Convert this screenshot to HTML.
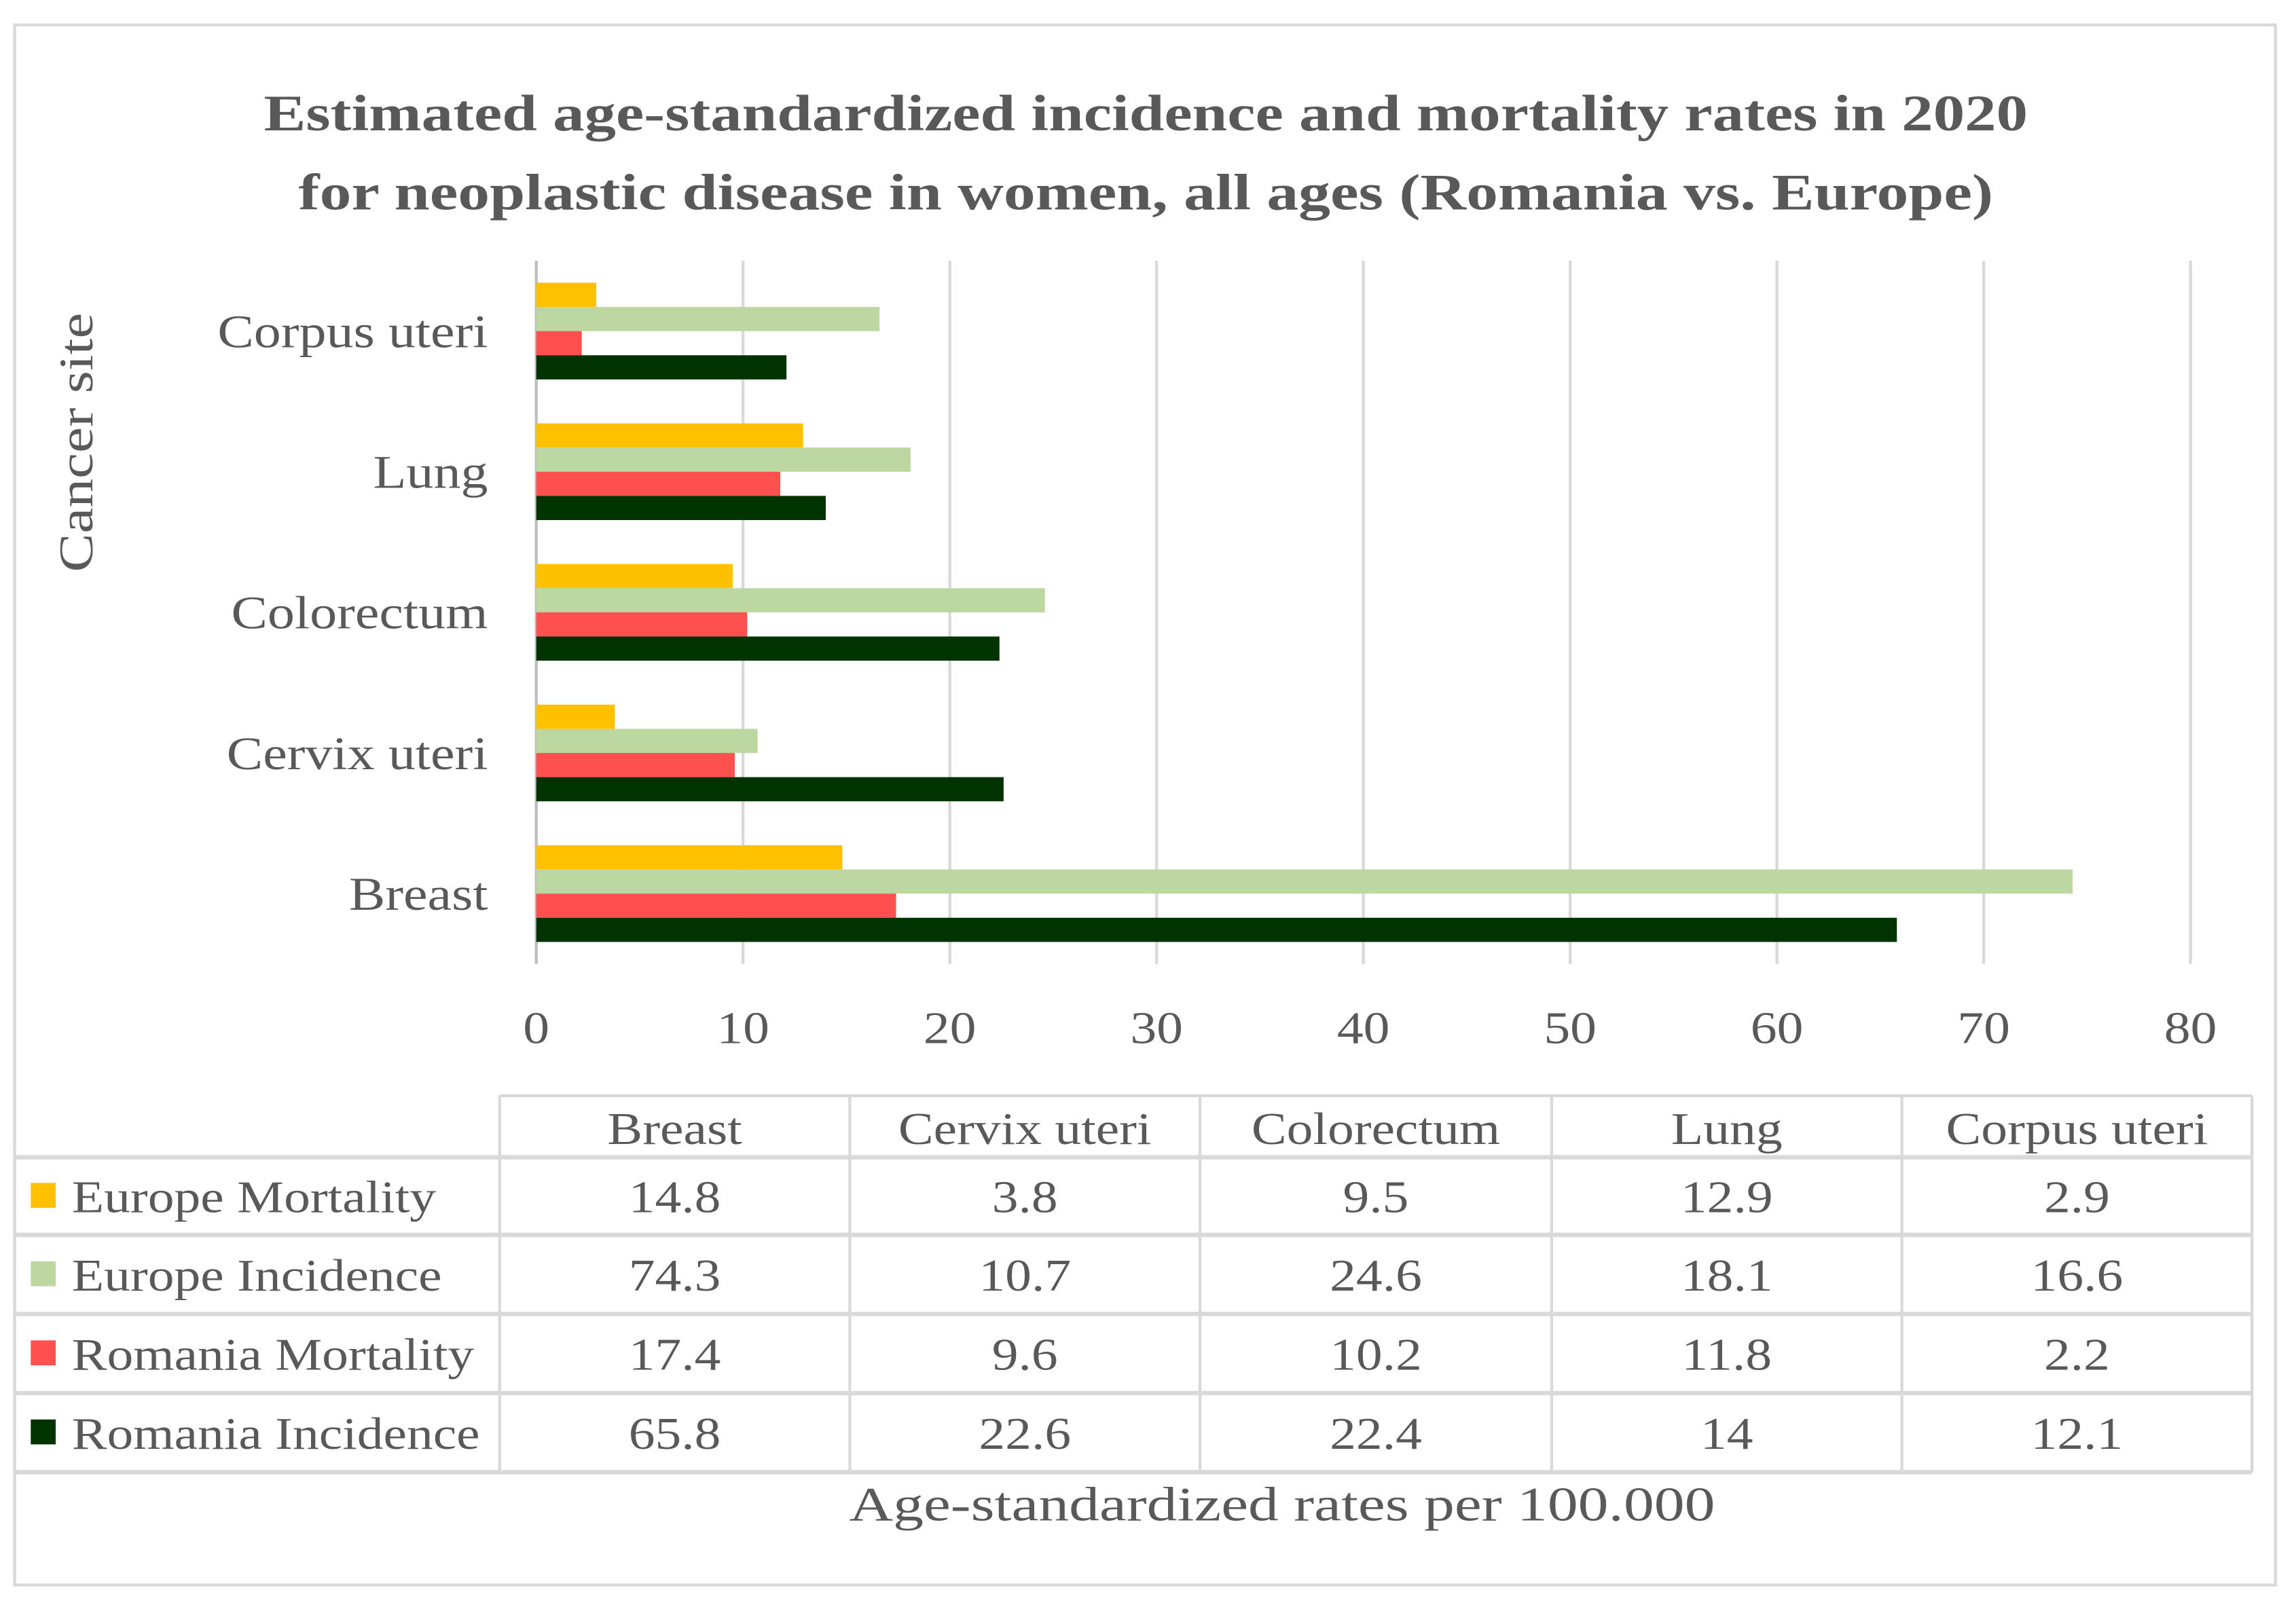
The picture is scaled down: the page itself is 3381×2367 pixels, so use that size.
<!DOCTYPE html>
<html><head><meta charset="utf-8"><style>
html,body{margin:0;padding:0;background:#fff;}
svg{display:block;font-family:"Liberation Serif",serif;}
</style></head><body>
<svg id="chart" width="3381" height="2367" viewBox="0 0 1567 1097" xmlns="http://www.w3.org/2000/svg">
<rect x="10" y="17" width="1543" height="1065" fill="#fff" stroke="#d9d9d9" stroke-width="2"/>
<text data-stretch="1.23" x="782" y="89" text-anchor="middle" font-size="35" font-weight="bold" fill="#595959">Estimated age-standardized incidence and mortality rates in 2020</text>
<text data-stretch="1.24" x="782" y="143" text-anchor="middle" font-size="35" font-weight="bold" fill="#595959">for neoplastic disease in women, all ages (Romania vs. Europe)</text>
<text data-stretch="1.2" transform="translate(63,302) rotate(-90)" text-anchor="middle" font-size="33" fill="#595959">Cancer site</text>
<text data-stretch="1.26" x="875" y="1038" text-anchor="middle" font-size="33" fill="#595959">Age-standardized rates per 100.000</text>
<g id="grid"></g><g id="bars"></g><g id="labels"></g><g id="table"></g>
</svg>
<script>
const categories = ["Breast","Cervix uteri","Colorectum","Lung","Corpus uteri"];
const seriesNames = ["Europe Mortality","Europe Incidence","Romania Mortality","Romania Incidence"];
const europeMortality = [14.8,3.8,9.5,12.9,2.9];
const europeIncidence = [74.3,10.7,24.6,18.1,16.6];
const romaniaMortality = [17.4,9.6,10.2,11.8,2.2];
const romaniaIncidence = [65.8,22.6,22.4,14,12.1];
const tableLabels = [["14.8","3.8","9.5","12.9","2.9"],["74.3","10.7","24.6","18.1","16.6"],["17.4","9.6","10.2","11.8","2.2"],["65.8","22.6","22.4","14","12.1"]];
const ticks = [0,10,20,30,40,50,60,70,80];

const NS="http://www.w3.org/2000/svg";
const colors=["#FFC000","#BDD7A0","#FF5050","#013300"];
const series=[europeMortality,europeIncidence,romaniaMortality,romaniaIncidence];
const X0=366,X1=1495,YT=178,YB=658;
const xs=v=>X0+(v-0)/(80-0)*(X1-X0);
const band=(YB-YT)/categories.length;
const yc=i=>YB-band*(i+0.5);
const barH=16.5;
function el(tag,attrs,parent){const e=document.createElementNS(NS,tag);for(const k in attrs)e.setAttribute(k,attrs[k]);parent.appendChild(e);return e;}
const grid=document.getElementById('grid'),bars=document.getElementById('bars'),labels=document.getElementById('labels'),table=document.getElementById('table');
ticks.forEach(t=>{
  const l=el('line',{x1:xs(t),x2:xs(t),y1:YT,y2:YB,stroke:t===0?'#bfbfbf':'#d9d9d9','stroke-width':2},grid);
  
  
  const tx=el('text',{x:xs(t),y:712,'text-anchor':'middle','font-size':31,fill:'#595959','data-stretch':'1.16'},labels);
  tx.textContent=t;
  
  
});
categories.forEach((c,i)=>{
  const cy=yc(i);
  const tx=el('text',{x:333,y:cy+11,'text-anchor':'end','font-size':32,fill:'#595959','data-stretch':'1.16'},labels);
  tx.textContent=c;
  
  
  series.forEach((s,j)=>{
    const y=cy-2*barH+j*barH;
    const r=el('rect',{x:xs(0),y:y,width:xs(s[i])-xs(0),height:barH,fill:colors[j]},bars);
    
    
  });
});
const colX=[341,580,819,1059,1298,1537];
const rowY=[748,790,843,897,951,1005];
const lc='#d9d9d9';
el('line',{x1:341,x2:1537,y1:748,y2:748,stroke:lc,'stroke-width':2},table);
for(let r=1;r<rowY.length;r++) el('line',{x1:10,x2:1537,y1:rowY[r],y2:rowY[r],stroke:lc,'stroke-width':3},table);
colX.forEach(x=>el('line',{x1:x,x2:x,y1:748,y2:1005,stroke:lc,'stroke-width':2},table));
categories.forEach((c,i)=>{
  const tx=el('text',{x:(colX[i]+colX[i+1])/2,y:781,'text-anchor':'middle','font-size':31,fill:'#595959','data-stretch':'1.16'},table);
  tx.textContent=c;
  
  
});
seriesNames.forEach((n,j)=>{
  const yMid=(rowY[j+1]+rowY[j+2])/2;
  const sw=el('rect',{x:21,y:yMid-9,width:17,height:17,fill:colors[j]},table);
  
  
  const tx=el('text',{x:49,y:yMid+11,'font-size':31,fill:'#595959','data-stretch':'1.16'},table);
  tx.textContent=n;
  
  
  tableLabels[j].forEach((v,i)=>{
    const t=el('text',{x:(colX[i]+colX[i+1])/2,y:yMid+11,'text-anchor':'middle','font-size':31,fill:'#595959','data-stretch':'1.16'},table);
    t.textContent=v;
    
    
  });
});
document.querySelectorAll('text[data-stretch]').forEach(t=>{
  const f=parseFloat(t.getAttribute('data-stretch'));
  const len=t.getComputedTextLength();
  if(len>0){t.setAttribute('textLength',(len*f).toFixed(1));t.setAttribute('lengthAdjust','spacingAndGlyphs');}
});
</script>
</body></html>
